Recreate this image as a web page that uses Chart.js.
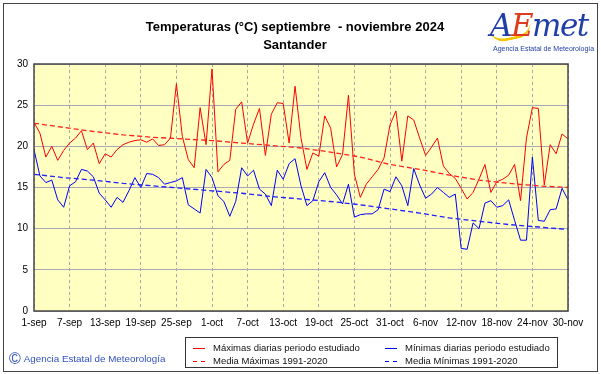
<!DOCTYPE html>
<html lang="es">
<head>
<meta charset="UTF-8">
<title>Temperaturas Santander</title>
<script src="https://cdn.jsdelivr.net/npm/chart.js"></script>
<style>
  body { margin: 0; background: #fff; }
  #wrap { position: relative; width: 601px; height: 374px; overflow: hidden; background: #fff;
          font-family: Arial, "Liberation Sans", sans-serif; }
  #chart { position: absolute; left: 0; top: 0; }
  #frame { position: absolute; left: 3px; top: 3px; width: 595px; height: 369px; box-sizing: border-box;
           border: 1px solid #444; pointer-events: none; }
  #title { position: absolute; left: 0; top: 18px; width: 590px; text-align: center;
           font-weight: bold; font-size: 13px; line-height: 18px; color: #000; white-space: pre; }
  #logo { position: absolute; left: 490px; top: 4px; width: 104px; height: 52px; }
  #logo .word { position: absolute; left: 0; top: 1px; font-family: "DejaVu Serif", serif; font-style: italic;
                font-size: 31px; line-height: 40px; letter-spacing: -1.5px; color: #1f3ea8; }
  #logo .word .e { color: #e03a1e; }
  #logo .swoosh { position: absolute; left: 0; top: 21px; width: 42px; height: 12px;
                  border-bottom: 3px solid #f2c500; border-radius: 0 0 30px 30px; transform: rotate(-12deg); }
  #logo .sub { position: absolute; left: 3px; top: 41px; font-size: 7px; color: #1f3ea8; white-space: nowrap; }
  #copy { position: absolute; left: 9px; top: 350px; font-size: 9.8px; color: #3050c0; white-space: nowrap; }
  #copy .c { font-size: 16px; vertical-align: -2px; margin-right: 3px; }
  #legend { position: absolute; left: 185px; top: 337px; width: 373px; height: 31px; box-sizing: border-box;
            border: 1px solid #333; background: #fff; font-size: 9.5px; color: #111; }
  #legend .item { position: absolute; white-space: nowrap; line-height: 12px; }
  #legend .sw { display: inline-block; width: 12px; height: 1px; vertical-align: middle; margin-right: 8px; }
  .solid-r { background: #ff0000; }
  .solid-b { background: #0000ff; }
  .dash-r { background: repeating-linear-gradient(to right, #ff0000 0 4px, transparent 4px 8px); }
  .dash-b { background: repeating-linear-gradient(to right, #0000ff 0 4px, transparent 4px 8px); }
</style>
</head>
<body>
<div id="wrap">
  <canvas id="chart" width="601" height="374"></canvas>
  <div id="title">Temperaturas (°C) septiembre  - noviembre 2024<br>Santander</div>
  <div id="logo">
    <div class="swoosh"></div>
    <div class="word">A<span class="e">E</span>met</div>
    <div class="sub">Agencia Estatal de Meteorología</div>
  </div>
  <div id="copy"><span class="c">©</span>Agencia Estatal de Meteorología</div>
  <div id="legend">
    <div class="item" style="left:7px;top:4px"><span class="sw solid-r"></span>Máximas diarias periodo estudiado</div>
    <div class="item" style="left:7px;top:17px"><span class="sw dash-r"></span>Media Máximas 1991-2020</div>
    <div class="item" style="left:199px;top:4px"><span class="sw solid-b"></span>Mínimas diarias periodo estudiado</div>
    <div class="item" style="left:199px;top:17px"><span class="sw dash-b"></span>Media Mínimas 1991-2020</div>
  </div>
  <div id="frame"></div>
</div>

<script>
  // etiquetas del eje X, una cada 6 días desde el 1 de septiembre
  const TICK_LABELS = ["1-sep", "7-sep", "13-sep", "19-sep", "25-sep", "1-oct", "7-oct", "13-oct",
    "19-oct", "25-oct", "31-oct", "6-nov", "12-nov", "18-nov", "24-nov", "30-nov"];

  // máximas diarias (1-sep .. 30-nov)
  const MAX_DAILY = [
    22.9, 21.6, 18.7, 20.0, 18.3, 19.5, 20.4, 21.0, 21.9, 19.6,
    20.4, 17.9, 19.1, 18.7, 19.6, 20.2, 20.5, 20.7, 20.8, 20.5,
    20.9, 20.1, 20.2, 21.0, 27.6, 21.2, 18.4, 17.4, 24.7, 20.2,
    29.4, 16.9, 17.8, 18.3, 24.5, 25.4, 20.4, 22.7, 24.6, 18.9,
    23.9, 25.3, 25.2, 20.4, 27.3, 21.0, 17.2, 19.2, 18.8, 23.7,
    22.2, 17.5, 19.0, 26.2, 16.6, 13.8, 15.4, 16.3, 17.2, 18.6,
    22.6, 24.3, 18.2, 23.7, 23.2, 21.0, 18.9, 19.9, 21.0, 17.6,
    16.7, 16.1, 14.9, 13.6, 14.4, 16.0, 17.8, 14.4, 15.7, 16.0,
    16.5, 17.8, 13.4, 21.0, 24.7, 24.6, 15.3, 20.2, 19.1, 21.5,
    20.9
  ];

  // mínimas diarias
  const MIN_DAILY = [
    19.6, 16.4, 15.6, 15.9, 13.5, 12.6, 15.2, 15.7, 17.2, 17.0,
    16.3, 14.3, 13.5, 12.6, 13.8, 13.2, 14.6, 16.2, 15.0, 16.7,
    16.6, 16.2, 15.4, 15.6, 15.8, 16.2, 12.9, 12.4, 11.9, 17.2,
    16.2, 14.0, 13.3, 11.5, 13.3, 17.4, 16.4, 17.1, 14.8, 14.2,
    12.8, 17.1, 16.0, 17.9, 18.5, 15.2, 12.8, 13.4, 15.7, 16.8,
    15.0, 14.1, 13.0, 15.4, 11.4, 11.7, 11.8, 11.8, 12.3, 14.8,
    14.5, 16.3, 15.2, 12.8, 17.3, 15.3, 13.7, 14.2, 15.0, 14.4,
    13.8, 14.2, 7.6, 7.5, 10.7, 10.0, 13.1, 13.4, 12.6, 12.8,
    13.5, 11.0, 8.6, 8.6, 18.7, 11.0, 10.9, 12.3, 12.4, 14.9,
    13.5
  ];

  // medias 1991-2020, leídas cada 5 días
  const NORMAL_DAYS = [0, 5, 10, 15, 20, 25, 30, 35, 40, 45, 50, 55, 60, 65, 70, 75, 80, 85, 90];
  const NORMAL_MAX = [22.8, 22.3, 21.8, 21.4, 21.1, 20.9, 20.7, 20.4, 20.1, 19.8,
    19.3, 18.7, 17.8, 17.2, 16.5, 15.9, 15.5, 15.2, 15.0];
  const NORMAL_MIN = [16.6, 16.2, 15.9, 15.5, 15.2, 14.9, 14.6, 14.3, 13.9, 13.6,
    13.3, 12.9, 12.4, 11.9, 11.3, 10.9, 10.5, 10.2, 9.9];

  const daily = (arr) => arr.map((v, i) => ({ x: i, y: v }));
  const normal = (arr) => arr.map((v, i) => ({ x: NORMAL_DAYS[i], y: v }));

  // fondo amarillo y marco del área de gráfico
  const plotArea = {
    id: "plotArea",
    beforeDraw(chart) {
      const { ctx, chartArea: a } = chart;
      ctx.save();
      ctx.fillStyle = "#ffffc2";
      ctx.fillRect(a.left, a.top, a.right - a.left, a.bottom - a.top);
      ctx.restore();
    },
    afterDatasetsDraw(chart) {
      const { ctx, chartArea: a } = chart;
      ctx.save();
      ctx.strokeStyle = "#474747";
      ctx.lineWidth = 1.5;
      ctx.strokeRect(a.left, a.top, a.right - a.left, a.bottom - a.top);
      ctx.restore();
    },
  };

  const line = (data, color, dash) => ({
    data,
    borderColor: color,
    borderWidth: dash ? 1.3 : 1,
    borderDash: dash || [],
    pointRadius: 0,
    tension: 0,
    fill: false,
  });

  new Chart(document.getElementById("chart"), {
    type: "line",
    data: {
      datasets: [
        line(normal(NORMAL_MAX), "#ff2020", [5, 3]),
        line(normal(NORMAL_MIN), "#2020ff", [5, 3]),
        line(daily(MAX_DAILY), "#ff0000"),
        line(daily(MIN_DAILY), "#0000ff"),
      ],
    },
    options: {
      responsive: false,
      animation: false,
      layout: { padding: { left: 0, top: 64, right: 33, bottom: 43 } },
      plugins: { legend: { display: false }, tooltip: { enabled: false } },
      scales: {
        x: {
          type: "linear",
          min: 0,
          max: 90,
          afterFit: (s) => { s.height = 20; },
          border: { display: false, dash: [3, 3] },
          grid: { color: "#a8a8a8", drawTicks: false },
          ticks: {
            stepSize: 6,
            autoSkip: false,
            maxRotation: 0,
            padding: 6,
            color: "#000",
            font: { family: "Arial, 'Liberation Sans', sans-serif", size: 10 },
            callback: (v) => TICK_LABELS[v / 6],
          },
        },
        y: {
          min: 0,
          max: 30,
          afterFit: (s) => { s.width = 34; },
          border: { display: false },
          grid: { color: "#a8a8b8", drawTicks: false },
          ticks: {
            stepSize: 5,
            padding: 6,
            color: "#000",
            font: { family: "Arial, 'Liberation Sans', sans-serif", size: 10 },
          },
        },
      },
    },
    plugins: [plotArea],
  });
</script>
</body>
</html>
